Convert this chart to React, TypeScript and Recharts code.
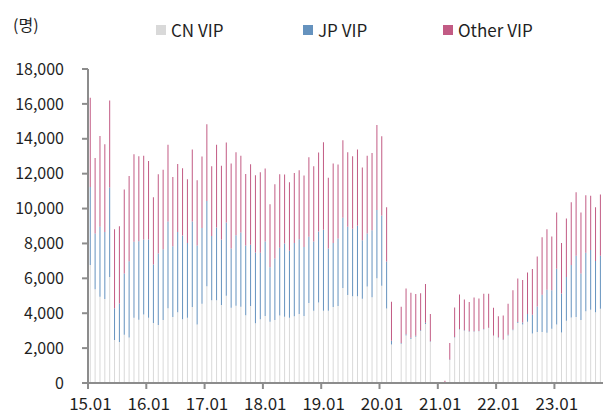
import React from 'react';
import { BarChart, Bar, XAxis, YAxis } from 'recharts';

// monthly VIP visitors, 15.01 ~ 23.10 (0 = no data that month)
const cnVip = [
  6760, 5380, 4940, 4810, 6070, 2460, 2350, 2770, 2610, 3740, 3630, 3930,
  3740, 3440, 3320, 3610, 4290, 3780, 4060, 3660, 3740, 4350, 3360, 4540,
  5550, 4750, 4750, 4470, 5000, 4310, 4430, 4370, 3890, 4410, 3420, 3660,
  3840, 3510, 3610, 3870, 3800, 3740, 3820, 3950, 3840, 4580, 4140, 4620,
  4140, 4140, 4350, 4410, 5440, 5040, 4980, 4980, 4830, 5530, 4920, 6010,
  5570, 4270, 2210, 0, 2250, 2730, 2520, 2650, 2980, 3380, 2370, 0,
  0, 0, 1320, 2610, 3070, 3000, 2940, 2940, 2960, 3070, 3150, 2710,
  2600, 2460, 2730, 3020, 3440, 3360, 3510, 2840, 2920, 2920, 2880, 3110,
  3360, 2900, 3570, 3760, 3780, 3610, 4120, 4200, 4060, 4260,
];

const jpVip = [
  4480, 3190, 4010, 3840, 5130, 1830, 2210, 3510, 4370, 4350, 4500, 4300,
  4490, 3350, 4100, 4060, 4970, 4060, 4600, 4790, 4290, 4910, 4520, 4350,
  4890, 3670, 4160, 3760, 4200, 3400, 4040, 4260, 3990, 3510, 4060, 3800,
  4270, 3130, 3530, 3880, 4200, 3840, 4200, 4290, 3950, 3800, 3970, 4060,
  4640, 3570, 3670, 3870, 4040, 3910, 3860, 4030, 3360, 3040, 3840, 3910,
  4030, 2700, 210, 0, 50, 60, 80, 60, 50, 70, 30, 0,
  0, 0, 20, 20, 20, 20, 20, 20, 20, 20, 20, 20,
  20, 30, 30, 40, 60, 110, 440, 1070, 1470, 2140, 2460, 2210,
  3190, 2230, 2500, 3010, 3510, 2670, 3340, 3430, 2940, 3030,
];

const otherVip = [
  5110, 4330, 5210, 5030, 5000, 4530, 4430, 4810, 4890, 5020, 4870, 4800,
  4500, 3860, 4550, 4560, 4400, 3970, 3900, 3860, 3650, 4120, 3740, 4090,
  4390, 4000, 4750, 4230, 4580, 4870, 4760, 4400, 4100, 4620, 4430, 4620,
  4180, 3610, 4250, 4220, 3950, 3930, 4020, 3950, 4100, 4560, 4310, 4530,
  5020, 4050, 4560, 4240, 4430, 4280, 4160, 4370, 4160, 4460, 4430, 4870,
  4540, 3110, 2240, 0, 2070, 2630, 2570, 2390, 2120, 2220, 1550, 0,
  0, 130, 950, 1700, 1990, 1770, 1680, 1940, 1870, 2020, 1940, 1580,
  1200, 1380, 1780, 2250, 2490, 2430, 2390, 2620, 2860, 3300, 3480, 3080,
  3220, 2890, 3360, 3590, 3650, 3490, 3300, 3110, 3080, 3510,
];

const years = ['15', '16', '17', '18', '19', '20', '21', '22', '23'];
const monthNames = ['01', '02', '03', '04', '05', '06', '07', '08', '09', '10', '11', '12'];
const yTicks = [0, 2000, 4000, 6000, 8000, 10000, 12000, 14000, 16000, 18000];

const months: string[] = [];
years.forEach((y) => monthNames.forEach((m) => months.push(`${y}.${m}`)));

const data = cnVip.map((cn, i) => ({
  month: months[i],
  cn,
  jp: jpVip[i],
  other: otherVip[i],
}));

const W = 605;
const H = 418;
const LEFT = 88;
const RIGHT = 2;
const TOP = 69;
const XAXIS_H = 35;
const AXIS_Y = H - XAXIS_H;
const BAND = (W - LEFT - RIGHT) / data.length;
const FONT = '"Noto Sans CJK KR", "Noto Sans", sans-serif';
const AXIS_COLOR = '#8c8c8c';
const TEXT = '#1f1f1f';

const COLORS = { cn: '#d9d9d9', jp: '#6592be', other: '#c25b84' };

const XTick = (props: any) => {
  const { x, payload } = props;
  const lx = x - BAND / 2;
  return (
    <g>
      <line x1={lx} x2={lx} y1={AXIS_Y} y2={AXIS_Y + 6} stroke={AXIS_COLOR} strokeWidth={2} />
      <text x={x} y={AXIS_Y + 27} textAnchor="middle" fontSize={17} fill={TEXT} fontFamily={FONT}>
        {payload.value}
      </text>
    </g>
  );
};

const legendItems = [
  { key: 'cn', label: 'CN VIP', left: 156 },
  { key: 'jp', label: 'JP VIP', left: 303 },
  { key: 'other', label: 'Other VIP', left: 443 },
];

export default function App() {
  return (
    <div style={{ position: 'absolute', left: 0, top: 0, width: W, height: H, background: '#fff' }}>
      <div style={{ position: 'absolute', left: 13, top: 12, fontFamily: FONT, fontSize: 16, color: TEXT }}>(명)</div>
      {legendItems.map((it) => (
        <div
          key={it.key}
          style={{ position: 'absolute', left: it.left, top: 17, display: 'flex', alignItems: 'center', fontFamily: FONT, fontSize: 17, color: TEXT, zIndex: 1 }}
        >
          <span style={{ width: 10, height: 10, background: (COLORS as any)[it.key], display: 'inline-block', marginRight: 5 }} />
          {it.label}
        </div>
      ))}
      <BarChart width={W} height={H} data={data} margin={{ top: TOP, right: RIGHT, bottom: 0, left: 0 }} barCategoryGap="36%">
        <XAxis
          dataKey="month"
          interval={11}
          height={XAXIS_H}
          tickLine={false}
          axisLine={{ stroke: AXIS_COLOR, strokeWidth: 2 }}
          tick={<XTick />}
        />
        <YAxis
          width={LEFT}
          domain={[0, 18000]}
          ticks={yTicks}
          interval={0}
          tickSize={6}
          tickMargin={18}
          axisLine={{ stroke: AXIS_COLOR, strokeWidth: 2 }}
          tickLine={{ stroke: AXIS_COLOR, strokeWidth: 2 }}
          tick={{ fontSize: 16, fill: TEXT, fontFamily: FONT }}
          tickFormatter={(v: number) => v.toLocaleString('en-US')}
        />
        <Bar dataKey="cn" stackId="a" fill={COLORS.cn} isAnimationActive={false} />
        <Bar dataKey="jp" stackId="a" fill={COLORS.jp} isAnimationActive={false} />
        <Bar dataKey="other" stackId="a" fill={COLORS.other} isAnimationActive={false} />
      </BarChart>
    </div>
  );
}
